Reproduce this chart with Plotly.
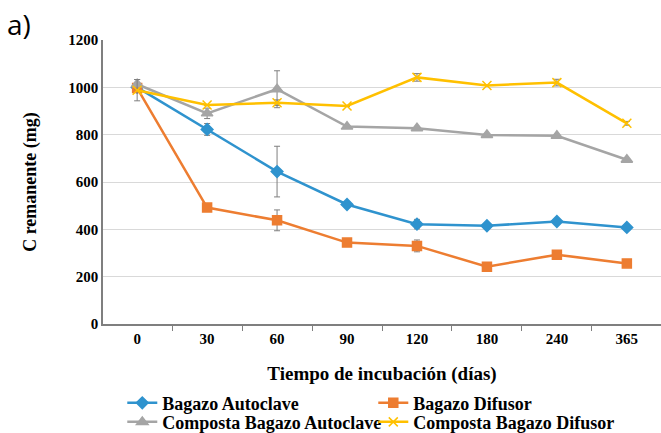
import plotly.graph_objects as go

# Incubation times (days) used as categories
dias = ["0", "30", "60", "90", "120", "180", "240", "365"]

# Remaining carbon (mg) per treatment
bagazo_autoclave = [1000, 822, 644, 505, 422, 415, 433, 408]
bagazo_autoclave_err = [20, 25, 107, 12, 20, 8, 0, 0]

bagazo_difusor = [997, 492, 438, 344, 330, 242, 293, 256]
bagazo_difusor_err = [0, 0, 44, 15, 25, 0, 0, 0]

composta_autoclave = [1013, 890, 992, 834, 827, 799, 795, 694]
composta_autoclave_err = [20, 22, 78, 0, 0, 0, 0, 0]

composta_difusor = [988, 925, 935, 921, 1042, 1008, 1020, 848]
composta_difusor_err = [45, 0, 12, 0, 16, 0, 14, 8]

# name, values, errors, colour, marker, marker size, legend row
series = [
    ("Bagazo Autoclave", bagazo_autoclave, bagazo_autoclave_err, "#2F93CE", "diamond", 9, "legend"),
    ("Bagazo Difusor", bagazo_difusor, bagazo_difusor_err, "#ED7D31", "square", 9, "legend"),
    ("Composta Bagazo Autoclave", composta_autoclave, composta_autoclave_err, "#A5A5A5", "triangle-up", 10, "legend2"),
    ("Composta Bagazo Difusor", composta_difusor, composta_difusor_err, "#FFC000", "x-thin-open", 9, "legend2"),
]

serif = "Liberation Serif"

fig = go.Figure()
for name, vals, err, color, symbol, size, leg in series:
    fig.add_trace(go.Scatter(
        x=dias, y=vals, name=name, mode="lines+markers", legend=leg,
        line=dict(color=color, width=2.5),
        marker=dict(symbol=symbol, size=size, color=color,
                    line=dict(color=color, width=1.5)),
        error_y=dict(type="data", array=err, visible=True,
                     color="#7F7F7F", thickness=1, width=3),
    ))

legend_style = dict(
    orientation="h", xref="container", yref="container",
    x=0.185, xanchor="left", yanchor="middle",
    entrywidth=206, entrywidthmode="pixels",
    itemwidth=30, tracegroupgap=0,
    font=dict(family=serif, size=18, color="black", weight="bold"),
    bgcolor="rgba(0,0,0,0)",
)

fig.update_layout(
    width=661, height=433,
    margin=dict(l=103, r=0, t=40, b=109),
    plot_bgcolor="white", paper_bgcolor="white",
    font=dict(family=serif, color="black"),
    showlegend=True,
    legend=dict(legend_style, y=0.069),
    legend2=dict(legend_style, y=0.025),
    xaxis=dict(
        type="category", automargin=False,
        showline=True, linecolor="#7F7F7F", linewidth=1.5,
        ticks="outside", tickson="boundaries", ticklen=5,
        tickcolor="#7F7F7F", showgrid=False,
        tickfont=dict(family=serif, size=15, color="black", weight="bold"),
        title=dict(text="<b>Tiempo de incubación (días)</b>",
                   font=dict(family=serif, size=19, color="black"),
                   standoff=31),
    ),
    yaxis=dict(
        range=[0, 1200], dtick=200, automargin=False,
        showline=True, linecolor="#7F7F7F", linewidth=1.5,
        showgrid=True, gridcolor="#D9D9D9", gridwidth=1,
        zeroline=False, ticks="",
        tickfont=dict(family=serif, size=15, color="black", weight="bold"),
        title=dict(text="<b>C remanente (mg)</b>",
                   font=dict(family=serif, size=18, color="black"),
                   standoff=27),
    ),
)

fig.add_annotation(
    text="a)", xref="paper", yref="paper", x=-0.175, y=1.13,
    xanchor="left", yanchor="top", showarrow=False,
    font=dict(family="Open Sans", size=28, color="black"),
)

fig.write_html("out.html")
